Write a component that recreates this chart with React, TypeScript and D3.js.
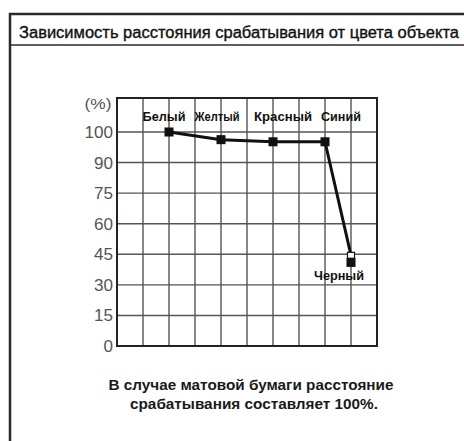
import React from "react";
import * as d3 from "d3";

// Chart data
const categories = ["Белый", "Желтый", "Красный", "Синий", "Черный"];
const categoryColumns = [2, 4, 6, 8, 9]; // grid column each colour sits on
const distanceValues = [100, 97.5, 96.8, 96.8, 41];
const blackOutlineValue = 44.5; // small hollow square drawn above the black marker
const yTicks = [0, 15, 30, 45, 60, 75, 90, 100];
const columnCount = 10;

const titleText = "Зависимость расстояния срабатывания от цвета объекта";
const noteLines = [
  "В случае матовой бумаги расстояние",
  "срабатывания составляет 100%.",
];

// layout
const W = 464;
const H = 441;
const plot = { left: 117, right: 377, bottom: 346, top: 98 };
const labelOffsets = [-5, -4, 10, 16]; // horizontal nudge of the top labels
const labelWidths = [43, 45, 58, 40, 50];
const FONT = "'Liberation Sans', Arial, Helvetica, sans-serif";

const App = () => {
  const x = d3.scaleLinear().domain([0, columnCount]).range([plot.left, plot.right]);
  const step = (plot.bottom - 132) / (yTicks.length - 1);
  // evenly spaced, non-linear value axis
  const y = d3
    .scaleLinear()
    .domain(yTicks)
    .range(yTicks.map((_, i) => plot.bottom - i * step));

  const points = distanceValues.map((v, i) => [x(categoryColumns[i]), y(v)] as [number, number]);
  const linePoints = points.slice();
  linePoints[linePoints.length - 1] = [x(categoryColumns[4]), y(blackOutlineValue)];
  const line = d3.line();

  const m = 9; // marker size

  return (
    <svg
      width={W}
      height={H}
      style={{ position: "absolute", left: 0, top: 0, background: "#fff" }}
    >
      {/* outer frame */}
      <path d={`M10,${H} V14 H${W}`} fill="none" stroke="#2a2a2a" strokeWidth={2.5} />
      <line x1={10} x2={W} y1={45} y2={45} stroke="#2a2a2a" strokeWidth={1.5} />
      <text
        x={19}
        y={38}
        fontFamily={FONT}
        fontSize={16}
        fill="#111"
        stroke="#111"
        strokeWidth={0.35}
        textLength={440}
        lengthAdjust="spacingAndGlyphs"
      >
        {titleText}
      </text>

      {/* grid */}
      {d3.range(1, columnCount).map((c) => (
        <line
          key={"v" + c}
          x1={x(c)}
          x2={x(c)}
          y1={plot.top}
          y2={plot.bottom}
          stroke="#111"
          strokeWidth={1}
        />
      ))}
      {yTicks.slice(1).map((t) => (
        <line
          key={"h" + t}
          x1={plot.left}
          x2={plot.right}
          y1={y(t)}
          y2={y(t)}
          stroke="#555"
          strokeWidth={1.4}
        />
      ))}
      <rect
        x={plot.left}
        y={plot.top}
        width={plot.right - plot.left}
        height={plot.bottom - plot.top}
        fill="none"
        stroke="#222"
        strokeWidth={2}
      />

      {/* y axis labels */}
      {yTicks.map((t) => (
        <text
          key={"t" + t}
          x={113}
          y={y(t)}
          dy="0.36em"
          textAnchor="end"
          fontFamily={FONT}
          fontSize={16.5}
          fill="#555"
          textLength={String(t).length * 9.5}
          lengthAdjust="spacingAndGlyphs"
        >
          {t}
        </text>
      ))}
      <text
        x={98}
        y={104}
        dy="0.36em"
        textAnchor="middle"
        fontFamily={FONT}
        fontSize={14}
        fill="#555"
        textLength={27}
        lengthAdjust="spacingAndGlyphs"
      >
        (%)
      </text>

      {/* series */}
      <path d={line(linePoints) || ""} fill="none" stroke="#111" strokeWidth={3} strokeLinejoin="round" />
      <rect
        x={x(categoryColumns[4]) - 3.5}
        y={y(blackOutlineValue) - 3}
        width={7}
        height={6}
        fill="#fff"
        stroke="#111"
        strokeWidth={1.2}
      />
      {points.map(([px, py], i) => (
        <rect key={"m" + i} x={px - m / 2} y={py - m / 2} width={m} height={m} fill="#111" />
      ))}

      {/* category labels */}
      {categories.slice(0, 4).map((c, i) => (
        <text
          key={c}
          x={x(categoryColumns[i]) + labelOffsets[i]}
          y={116.5}
          dy="0.36em"
          textAnchor="middle"
          fontFamily={FONT}
          fontWeight="bold"
          fontSize={12.5}
          fill="#111"
          textLength={labelWidths[i]}
          lengthAdjust="spacingAndGlyphs"
        >
          {c}
        </text>
      ))}
      <text
        x={x(categoryColumns[4]) - 12}
        y={275}
        dy="0.36em"
        textAnchor="middle"
        fontFamily={FONT}
        fontWeight="bold"
        fontSize={12.5}
        fill="#111"
        textLength={labelWidths[4]}
        lengthAdjust="spacingAndGlyphs"
      >
        {categories[4]}
      </text>

      {/* note */}
      {noteLines.map((l, i) => (
        <text
          key={"n" + i}
          x={i === 0 ? 251 : 254}
          y={390 + i * 19}
          textAnchor="middle"
          fontFamily={FONT}
          fontWeight="bold"
          fontSize={14.5}
          fill="#1a1a1a"
          textLength={i === 0 ? 285 : 248}
          lengthAdjust="spacingAndGlyphs"
        >
          {l}
        </text>
      ))}
    </svg>
  );
};

export default App;
